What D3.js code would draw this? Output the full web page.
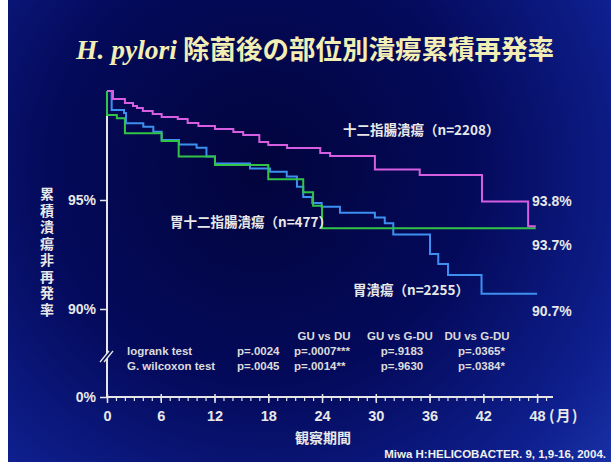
<!DOCTYPE html>
<html>
<head>
<meta charset="utf-8">
<script src="https://cdn.jsdelivr.net/npm/d3@7"></script>
<style>
  html, body { margin: 0; padding: 0; background: #ffffff; }
  svg { display: block; }
</style>
</head>
<body>
<svg id="chart" width="611" height="462"></svg>
<script>
// Kaplan–Meier style step data: months after eradication vs. cumulative non-recurrence (%)
const duMonths  = [0, 0.67, 2.0, 2.9, 3.35, 4.0, 5.1, 6.1, 7.9, 9.0, 10.2, 12.05, 14.1, 15.2, 17.0, 18.0, 20.1, 23.8, 24.9, 29.9, 34.9, 41.85, 47.0, 47.85];
const duRates   = [100, 99.63, 99.45, 99.31, 99.22, 99.08, 98.94, 98.81, 98.72, 98.53, 98.39, 98.26, 98.12, 97.98, 97.66, 97.52, 97.39, 97.16, 97.02, 96.40, 96.15, 94.93, 93.8, 93.8];

const gduMonths = [0, 0, 1.1, 2.0, 6.1, 8.0, 12.05, 18.0, 21.9, 23.0, 24.0, 47.85];
const gduRates  = [100, 98.9, 98.75, 98.06, 97.71, 96.99, 96.61, 95.95, 95.35, 94.74, 93.7, 93.7];

const guMonths  = [0, 0.52, 1.9, 2.12, 4.05, 5.17, 6.1, 8.04, 10.0, 11.1, 12.05, 15.96, 18.2, 20.06, 21.2, 21.9, 22.9, 23.96, 26.0, 29.9, 31.0, 31.95, 36.05, 36.97, 38.06, 41.8, 48.0];
const guRates   = [100, 99.13, 98.99, 98.52, 98.36, 98.13, 97.75, 97.55, 97.40, 96.99, 96.68, 96.45, 96.30, 96.08, 95.61, 95.14, 94.86, 94.69, 94.42, 94.20, 93.93, 93.42, 92.52, 92.06, 91.56, 90.7, 90.7];

const seriesNames = ["十二指腸潰瘍（n=2208）", "胃十二指腸潰瘍（n=477）", "胃潰瘍（n=2255）"];
const endLabels   = ["93.8%", "93.7%", "90.7%"];

const xTicks = [0, 6, 12, 18, 24, 30, 36, 42, 48];
const yTicks = [0, 90, 95];

const statHeaders = ["GU vs DU", "GU vs G-DU", "DU vs G-DU"];
const statTests   = ["logrank test", "G. wilcoxon test"];
const statOverall = ["p=.0024", "p=.0045"];
const statGUDU    = ["p=.0007***", "p=.0014**"];
const statGUGDU   = ["p=.9183", "p=.9630"];
const statDUGDU   = ["p=.0365*", "p=.0384*"];

const title1 = "H. pylori";
const title2 = " 除菌後の部位別潰瘍累積再発率";
const yTitle = "累積潰瘍非再発率";
const xTitle = "観察期間";
const xUnit = "(月)";
const citation = "Miwa H:HELICOBACTER. 9, 1,9-16, 2004.";

const W = 611, H = 462;
const svg = d3.select("#chart");

// ---- background ----
const defs = svg.append("defs");
const bg = defs.append("radialGradient").attr("id", "bg")
  .attr("gradientUnits", "userSpaceOnUse")
  .attr("cx", 260).attr("cy", 170).attr("r", 470);
bg.append("stop").attr("offset", 0).attr("stop-color", "#02043c");
bg.append("stop").attr("offset", 0.45).attr("stop-color", "#040a5a");
bg.append("stop").attr("offset", 0.8).attr("stop-color", "#0e1e8c");
bg.append("stop").attr("offset", 1).attr("stop-color", "#1a34aa");
svg.append("rect").attr("x", 8).attr("y", 0).attr("width", W - 8).attr("height", H).attr("fill", "url(#bg)");

// ---- scales (broken axis: 0–90 compressed, 90–100 expanded) ----
const x = d3.scaleLinear().domain([0, 50]).range([107, 555]);
const y = d3.scaleLinear().domain([0, 90, 100]).range([397, 309, 91]);

const axisColor = "#e6e6e6";
const textColor = "#e8e8e8";
const sans = "Arial, 'Liberation Sans', 'Noto Sans CJK JP', sans-serif";
const cjk = "'Noto Sans CJK JP', sans-serif";

// ---- title ----
const title = svg.append("text").attr("x", 315).attr("y", 59)
  .attr("text-anchor", "middle").attr("fill", "#f3efb4");
title.append("tspan").text(title1)
  .attr("font-family", "'Liberation Serif', 'Times New Roman', serif")
  .attr("font-style", "italic").attr("font-weight", "bold").attr("font-size", 27.5);
title.append("tspan").text(title2)
  .attr("font-family", cjk).attr("font-weight", "bold").attr("font-size", 26.5);

// ---- x axis ----
const xAxisG = svg.append("g").attr("transform", `translate(0,${y(0)})`);
xAxisG.call(d3.axisBottom(x).tickValues(d3.range(0, 50)).tickSize(4).tickFormat(""))
  .call(g => g.select(".domain").remove());
xAxisG.selectAll(".tick line").attr("stroke", axisColor).attr("stroke-width", 1.2)
  .attr("y1", -1);
const xMajor = svg.append("g").attr("transform", `translate(0,${y(0)})`);
xMajor.call(d3.axisBottom(x).tickValues(xTicks).tickSize(6).tickPadding(8).tickFormat(d => d))
  .call(g => g.select(".domain").remove());
xMajor.selectAll(".tick line").attr("stroke", axisColor).attr("stroke-width", 1.5).attr("y1", -3);
xMajor.selectAll(".tick text").attr("fill", textColor).attr("font-family", sans)
  .attr("font-weight", "bold").attr("font-size", 14.5);
svg.append("line").attr("x1", x(0)).attr("x2", 553).attr("y1", y(0)).attr("y2", y(0))
  .attr("stroke", axisColor).attr("stroke-width", 2);
svg.append("text").text(xUnit).attr("x", x(48) + 12).attr("y", 421)
  .attr("fill", textColor).attr("font-family", cjk).attr("font-weight", "bold").attr("font-size", 14.5)
  .attr("letter-spacing", 1.5);
svg.append("text").text(xTitle).attr("x", 323).attr("y", 443).attr("text-anchor", "middle")
  .attr("fill", textColor).attr("font-family", cjk).attr("font-weight", "bold").attr("font-size", 14);

// ---- y axis ----
const yAxisG = svg.append("g").attr("transform", `translate(${x(0)},0)`);
yAxisG.call(d3.axisLeft(y).tickValues(yTicks).tickSize(7).tickPadding(4).tickFormat(d => d + "%"))
  .call(g => g.select(".domain").remove());
yAxisG.selectAll(".tick line").attr("stroke", axisColor).attr("stroke-width", 1.5);
yAxisG.selectAll(".tick text").attr("fill", textColor).attr("font-family", sans)
  .attr("font-weight", "bold").attr("font-size", 14);
svg.append("line").attr("x1", x(0)).attr("x2", x(0)).attr("y1", y(100)).attr("y2", y(0) + 1)
  .attr("stroke", axisColor).attr("stroke-width", 2);

// axis break marks
const brk = svg.append("g").attr("transform", `translate(${x(0)},355)`);
brk.append("path").attr("d", "M-7,7 L2,-4 L6,-4 L-3,7 Z").attr("fill", "#050c52");
brk.append("line").attr("x1", -7).attr("y1", 7).attr("x2", 2).attr("y2", -4).attr("stroke", axisColor).attr("stroke-width", 1.3);
brk.append("line").attr("x1", -3).attr("y1", 7).attr("x2", 6).attr("y2", -4).attr("stroke", axisColor).attr("stroke-width", 1.3);

// vertical y-axis title
svg.append("text").text(yTitle)
  .attr("x", 47).attr("y", 187)
  .attr("writing-mode", "vertical-rl")
  .style("writing-mode", "vertical-rl")
  .attr("letter-spacing", 2.5)
  .attr("fill", textColor).attr("font-family", cjk)
  .attr("font-weight", "bold").attr("font-size", 14);

// ---- survival curves ----
const line = d3.line().x(d => x(d[0])).y(d => y(d[1])).curve(d3.curveStepAfter);
const series = [
  { m: guMonths,  r: guRates,  color: "#3d8ff0" },
  { m: gduMonths, r: gduRates, color: "#33c447" },
  { m: duMonths,  r: duRates,  color: "#d65ee0" }
];
series.forEach(s => {
  svg.append("path").datum(d3.zip(s.m, s.r)).attr("d", line)
    .attr("fill", "none").attr("stroke", s.color).attr("stroke-width", 2)
    .attr("stroke-linejoin", "miter");
});

// ---- series names ----
const nameStyle = sel => sel.attr("fill", textColor).attr("font-family", cjk)
  .attr("font-weight", "bold").attr("font-size", 13.5);
svg.append("text").text(seriesNames[0]).attr("x", 343).attr("y", 135).call(nameStyle);
svg.append("text").text(seriesNames[1]).attr("x", 170).attr("y", 227).call(nameStyle);
svg.append("text").text(seriesNames[2]).attr("x", 353).attr("y", 295).call(nameStyle);

// ---- end values ----
const endStyle = sel => sel.attr("fill", textColor).attr("font-family", sans)
  .attr("font-weight", "bold").attr("font-size", 14);
svg.append("text").text(endLabels[0]).attr("x", 532).attr("y", 206).call(endStyle);
svg.append("text").text(endLabels[1]).attr("x", 532).attr("y", 250).call(endStyle);
svg.append("text").text(endLabels[2]).attr("x", 532).attr("y", 316).call(endStyle);

// ---- statistics table ----
const statStyle = sel => sel.attr("fill", "#dcdcdc").attr("font-family", sans)
  .attr("font-weight", "bold").attr("font-size", 11.5);
const headerX = [324, 400, 477];
statHeaders.forEach((h, i) => svg.append("text").text(h).attr("x", headerX[i]).attr("y", 340)
  .attr("text-anchor", "middle").call(statStyle));
const rowY = [355, 370];
statTests.forEach((t, i) => {
  svg.append("text").text(t).attr("x", 127).attr("y", rowY[i]).call(statStyle);
  svg.append("text").text(statOverall[i]).attr("x", 237).attr("y", rowY[i]).call(statStyle);
  svg.append("text").text(statGUDU[i]).attr("x", 294).attr("y", rowY[i]).call(statStyle);
  svg.append("text").text(statGUGDU[i]).attr("x", 402).attr("y", rowY[i]).attr("text-anchor", "middle").call(statStyle);
  svg.append("text").text(statDUGDU[i]).attr("x", 458).attr("y", rowY[i]).call(statStyle);
});

// ---- citation ----
svg.append("text").text(citation).attr("x", 606).attr("y", 458).attr("text-anchor", "end")
  .attr("fill", "#f0f0f0").attr("font-family", sans).attr("font-weight", "bold").attr("font-size", 11.5);
</script>
</body>
</html>
